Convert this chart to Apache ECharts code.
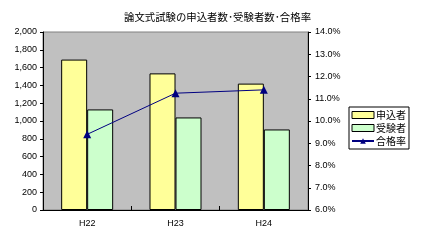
<!DOCTYPE html>
<html><head><meta charset="utf-8">
<script src="https://cdn.jsdelivr.net/npm/echarts@6/dist/echarts.min.js"></script>
<style>html,body{margin:0;padding:0;background:#fff}#c{width:425px;height:246px}</style>
</head><body><div id="c"></div>
<script>
const titleText = '論文式試験の申込者数･受験者数･合格率';
const categories = ['H22', 'H23', 'H24'];
const applicants = [1690, 1535, 1420];
const examinees = [1130, 1040, 905];
const passRate = [9.4, 11.25, 11.4];
const seriesNames = ['申込者', '受験者', '合格率'];

const chart = echarts.init(document.getElementById('c'));
const numFont = 'Liberation Sans, Arial, sans-serif';
chart.setOption({
  animation: false,
  title: {
    text: titleText, left: 119, top: 7,
    textStyle: { fontSize: 10.4, fontWeight: 'normal', color: '#000', fontFamily: 'Noto Sans CJK JP' }
  },
  grid: { left: 43, right: 117, top: 32, bottom: 36, show: true, backgroundColor: '#c0c0c0', borderColor: '#808080', borderWidth: 1 },
  legend: {
    orient: 'vertical', left: 349, top: 107,
    padding: [2, 3, 2, 2], itemGap: 1, itemWidth: 22, itemHeight: 7,
    borderColor: '#000', borderWidth: 1, backgroundColor: '#fff',
    textStyle: { fontSize: 10, lineHeight: 12, color: '#000', fontFamily: 'Noto Sans CJK JP', padding: [0, 0, 0, -3] },
    data: [
      { name: seriesNames[0], icon: 'rect', itemStyle: { color: '#ffff99', borderColor: '#000', borderWidth: 1 } },
      { name: seriesNames[1], icon: 'rect', itemStyle: { color: '#ccffcc', borderColor: '#000', borderWidth: 1 } },
      { name: seriesNames[2] }
    ]
  },
  xAxis: {
    type: 'category', data: categories,
    axisLine: { lineStyle: { color: '#000', width: 1 } },
    axisTick: { show: true, inside: true, length: 4, lineStyle: { color: '#000' } },
    axisLabel: { fontSize: 9, color: '#000', margin: 9, fontFamily: numFont }
  },
  yAxis: [
    {
      type: 'value', min: 0, max: 2000, interval: 200,
      axisLine: { show: true, lineStyle: { color: '#000', width: 1 } },
      axisTick: { show: true, length: 3, lineStyle: { color: '#000' } },
      splitLine: { show: false },
      axisLabel: { fontSize: 9, color: '#000', margin: 6, fontFamily: numFont,
        formatter: v => v.toLocaleString('en-US') }
    },
    {
      type: 'value', min: 6, max: 14, interval: 1, position: 'right',
      axisLine: { show: true, lineStyle: { color: '#000', width: 1 } },
      axisTick: { show: true, length: 3, lineStyle: { color: '#000' } },
      splitLine: { show: false },
      axisLabel: { fontSize: 9, color: '#000', margin: 7, fontFamily: numFont,
        formatter: v => v.toFixed(1) + '%' }
    }
  ],
  series: [
    { name: seriesNames[0], type: 'bar', data: applicants, barWidth: 26, barGap: '0%',
      itemStyle: { color: '#ffff99', borderColor: '#000', borderWidth: 1 } },
    { name: seriesNames[1], type: 'bar', data: examinees, barWidth: 26, barGap: '0%',
      itemStyle: { color: '#ccffcc', borderColor: '#000', borderWidth: 1 } },
    { name: seriesNames[2], type: 'line', yAxisIndex: 1, data: passRate,
      symbol: 'triangle', symbolSize: 8,
      lineStyle: { color: '#000080', width: 1 },
      itemStyle: { color: '#000080' } }
  ]
});
</script></body></html>
